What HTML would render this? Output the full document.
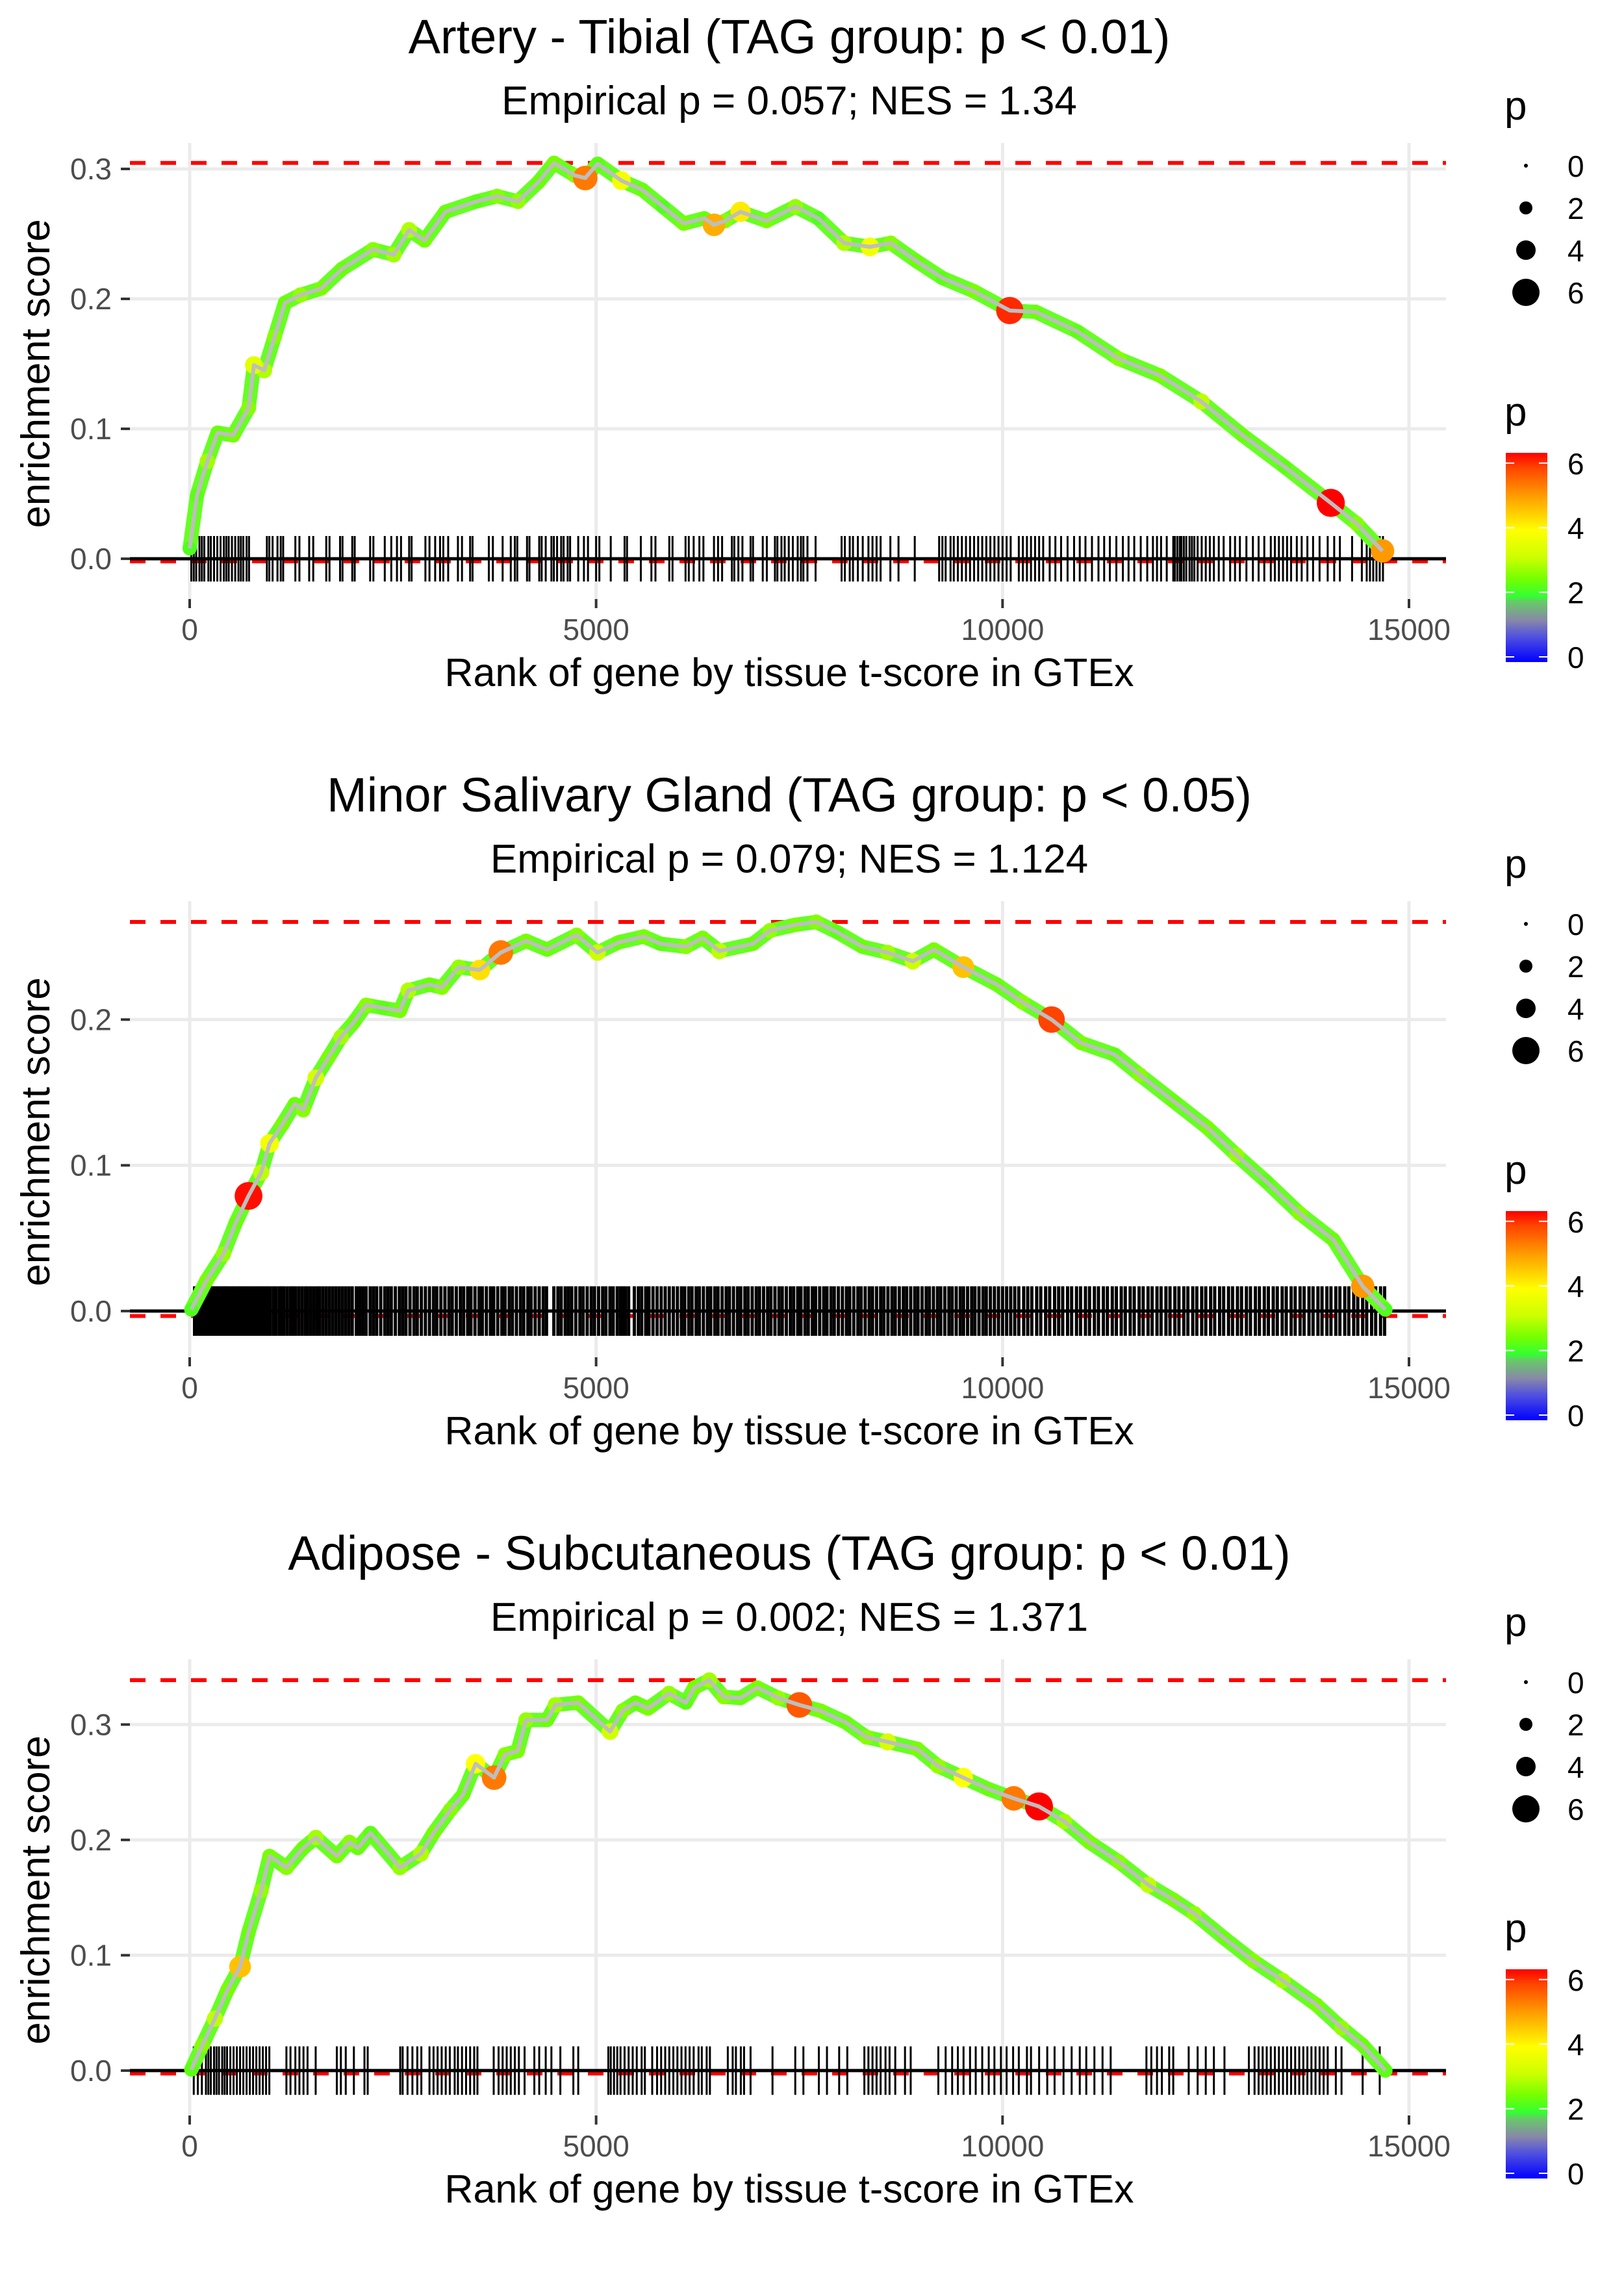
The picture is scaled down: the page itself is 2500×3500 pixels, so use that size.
<!DOCTYPE html>
<html><head><meta charset="utf-8"><style>
html,body{margin:0;padding:0;background:#fff}
svg{display:block;font-family:"Liberation Sans",Arial,sans-serif}
</style></head><body>
<svg id="chart" xmlns="http://www.w3.org/2000/svg" width="2500" height="3500" viewBox="0 0 2500 3500">
<defs>
<linearGradient id="pgrad" x1="0" y1="1" x2="0" y2="0">
<stop offset="0" stop-color="#0000ff"/><stop offset="0.12" stop-color="#5050e0"/><stop offset="0.2" stop-color="#8888a8"/><stop offset="0.29" stop-color="#66cc66"/><stop offset="0.315" stop-color="#33ff33"/><stop offset="0.4" stop-color="#77ff00"/><stop offset="0.5" stop-color="#ccff00"/><stop offset="0.63" stop-color="#ffff00"/><stop offset="0.8" stop-color="#ff9900"/><stop offset="0.93" stop-color="#ff4400"/><stop offset="1" stop-color="#ff0000"/>
</linearGradient>
</defs>
</svg>
<script>
// ---------- data ----------
const titles = ["Artery - Tibial (TAG group: p < 0.01)","Minor Salivary Gland (TAG group: p < 0.05)","Adipose - Subcutaneous (TAG group: p < 0.01)"];
const subtitles = ["Empirical p = 0.057; NES = 1.34","Empirical p = 0.079; NES = 1.124","Empirical p = 0.002; NES = 1.371"];
const xTicks = [0,5000,10000,15000];
const xTickLabels = ["0","5000","10000","15000"];
const yTicks1 = [0,0.1,0.2,0.3];
const yTicks2 = [0,0.1,0.2];
const yTicks3 = [0,0.1,0.2,0.3];
const sizeLegendValues = [0,2,4,6];
const colorLegendValues = [6,4,2,0];

const ranks1 = [0,90,217,344,535,726,790,917,1045,1172,1363,1618,1873,2255,2510,2700,2890,3146,3528,3783,4038,4292,4483,4738,4866,5019,5312,5567,5822,6077,6331,6450,6586,6777,7096,7452,7732,8051,8369,8624,8943,9261,9643,10089,10408,10917,11427,11936,12446,12955,13465,14038,14357,14675];
const es1 = [0.008,0.049,0.075,0.097,0.095,0.116,0.149,0.145,0.171,0.197,0.203,0.208,0.223,0.238,0.234,0.253,0.245,0.267,0.275,0.279,0.275,0.290,0.3046,0.295,0.293,0.304,0.291,0.284,0.271,0.258,0.262,0.257,0.260,0.267,0.260,0.271,0.262,0.243,0.240,0.243,0.229,0.216,0.206,0.191,0.190,0.175,0.154,0.141,0.121,0.095,0.071,0.043,0.027,0.006];
const p1 = [2.2,2.3,2.8,2.4,2.5,2.6,3.5,2.9,2.6,2.4,2.7,2.5,2.4,2.6,2.8,2.9,2.5,2.4,2.3,2.6,2.7,2.4,2.5,2.6,5.3,2.3,3.8,2.4,2.2,2.5,2.4,4.8,2.6,4.2,2.5,2.7,2.2,2.9,3.8,2.6,2.4,2.3,2.5,6.0,2.4,2.3,2.6,2.5,3.0,2.4,2.3,6.3,2.6,5.0];
const hits1 = [20,50,80,120,150,180,230,260,300,340,380,420,450,480,520,560,600,630,660,700,730,950,980,1020,1080,1120,1150,1300,1350,1470,1520,1680,1720,1850,1880,2000,2030,2220,2260,2400,2480,2550,2600,2700,2730,2900,2950,3020,3080,3120,3180,3300,3350,3450,3480,3680,3730,3850,3950,4000,4030,4150,4180,4300,4330,4380,4450,4480,4520,4570,4600,4650,4680,4780,4850,4900,5000,5040,5180,5350,5380,5550,5680,5730,5900,5940,6100,6140,6200,6270,6320,6450,6500,6550,6670,6700,6750,6800,6900,6930,7050,7100,7200,7230,7280,7320,7370,7420,7480,7520,7550,7600,7700,8020,8060,8120,8160,8220,8280,8350,8400,8450,8500,8620,8720,8920,9220,9260,9300,9360,9400,9450,9500,9550,9600,9650,9700,9750,9800,9850,9900,9950,10000,10050,10100,10200,10250,10300,10350,10400,10450,10500,10580,10650,10720,10800,10880,10950,11020,11100,11180,11250,11320,11400,11480,11550,11620,11700,11780,11850,11900,11950,12020,12100,12120,12150,12180,12200,12230,12260,12300,12330,12360,12400,12450,12500,12550,12600,12660,12720,12800,12860,12920,13000,13080,13150,13220,13300,13350,13400,13450,13500,13550,13620,13680,13750,13820,13900,14000,14080,14150,14300,14420,14480,14520,14560,14600,14640,14680];

const ranks2 = [20,207,414,569,724,879,983,1138,1293,1397,1552,1707,1862,2017,2172,2379,2586,2690,2948,3103,3310,3569,3828,4138,4397,4759,5017,5276,5586,5793,6103,6310,6517,6931,7138,7448,7707,7966,8276,8586,8896,9155,9517,9931,10241,10603,10965,11379,11690,12104,12517,12879,13241,13655,14069,14431,14710];
const es2 = [0.001,0.021,0.039,0.061,0.079,0.095,0.115,0.128,0.142,0.138,0.160,0.174,0.188,0.198,0.210,0.208,0.206,0.220,0.224,0.222,0.236,0.234,0.246,0.254,0.248,0.258,0.246,0.253,0.257,0.252,0.250,0.256,0.247,0.252,0.261,0.265,0.267,0.260,0.250,0.246,0.240,0.248,0.236,0.224,0.212,0.200,0.184,0.176,0.162,0.144,0.126,0.107,0.089,0.067,0.049,0.017,0.001];
const p2 = [2.2,2.5,2.7,2.4,6.2,3.0,3.8,2.5,2.4,2.6,3.2,2.5,2.8,2.4,2.6,2.3,2.5,2.9,2.4,2.6,2.7,4.3,5.3,2.5,2.4,2.6,3.1,2.4,2.5,2.3,2.6,2.5,3.0,2.4,2.7,2.5,2.6,2.3,2.4,2.8,3.1,2.5,4.6,2.4,2.6,5.8,2.5,2.3,2.6,2.4,2.5,2.7,2.3,2.6,2.4,5.0,2.2];
const hits2 = [60,90,120,150,175,200,230,260,280,310,340,370,400,430,450,480,510,540,570,600,630,660,690,720,750,780,810,840,870,900,930,960,990,1030,1060,1100,1130,1160,1200,1240,1270,1300,1340,1380,1420,1450,1490,1530,1570,1600,1640,1680,1720,1760,1800,1840,1880,1920,1960,2000,2050,2090,2130,2170,2220,2260,2300,2350,2400,2440,2480,2530,2580,2620,2660,2710,2760,2800,2850,2900,2950,3000,3040,3090,3140,3190,3230,3280,3330,3370,3420,3460,3510,3560,3600,3650,3700,3740,3790,3840,3880,3930,3970,4020,4070,4110,4160,4200,4250,4300,4350,4390,4480,4530,4570,4620,4660,4700,4750,4800,4840,4890,4940,4980,5030,5080,5120,5170,5210,5260,5300,5330,5360,5400,5470,5520,5560,5610,5650,5700,5750,5800,5850,5900,5950,6000,6050,6090,6140,6180,6230,6270,6320,6370,6410,6460,6500,6550,6600,6640,6690,6740,6780,6830,6870,6920,6970,7010,7060,7110,7150,7200,7250,7290,7340,7390,7430,7480,7520,7570,7610,7660,7700,7750,7800,7840,7890,7930,7980,8030,8080,8120,8170,8220,8260,8310,8360,8400,8450,8500,8540,8590,8640,8680,8730,8780,8820,8870,8920,8960,9010,9060,9100,9150,9200,9240,9290,9340,9380,9430,9480,9520,9570,9620,9660,9710,9760,9800,9850,9900,9950,10000,10050,10100,10150,10200,10260,10310,10360,10420,10470,10530,10580,10640,10690,10740,10800,10850,10910,10960,11020,11070,11130,11180,11240,11290,11350,11400,11460,11510,11570,11620,11680,11730,11790,11840,11900,11950,12010,12060,12120,12170,12230,12280,12340,12390,12450,12500,12560,12610,12670,12720,12780,12830,12890,12940,13000,13050,13110,13160,13220,13270,13330,13380,13440,13490,13550,13600,13660,13710,13770,13820,13880,13930,13990,14040,14100,14150,14210,14260,14320,14370,14430,14480,14540,14590,14650,14700];

const ranks3 = [20,155,310,465,620,724,879,983,1190,1397,1552,1810,1966,2069,2224,2586,2845,3000,3207,3362,3517,3745,3879,4034,4138,4397,4500,4779,5172,5328,5483,5638,5897,6103,6207,6393,6569,6776,6983,7241,7500,7759,8069,8328,8586,8948,9207,9517,9828,10138,10448,10759,11069,11431,11793,12104,12362,12724,13086,13448,13862,14172,14431,14710];
const es3 = [0.001,0.022,0.045,0.070,0.090,0.120,0.156,0.186,0.176,0.193,0.202,0.186,0.198,0.193,0.206,0.176,0.188,0.206,0.226,0.239,0.266,0.254,0.274,0.277,0.304,0.304,0.317,0.319,0.294,0.312,0.319,0.314,0.327,0.319,0.332,0.3385,0.324,0.323,0.332,0.323,0.317,0.312,0.302,0.289,0.285,0.279,0.264,0.254,0.244,0.236,0.229,0.216,0.198,0.181,0.161,0.148,0.136,0.115,0.095,0.078,0.057,0.037,0.022,0.0];
const p3 = [2.3,2.6,3.0,2.5,4.6,2.4,2.7,2.5,2.6,2.4,2.8,2.5,2.6,2.4,2.3,2.7,2.9,2.5,2.6,2.4,4.0,5.3,2.6,2.5,2.7,2.4,2.8,2.5,3.2,2.6,2.4,2.5,2.7,2.3,2.5,2.8,2.6,2.4,2.5,2.7,5.6,2.5,2.4,2.6,3.3,2.5,2.7,4.0,2.4,5.3,6.3,2.8,2.5,2.6,3.0,2.5,2.7,2.4,2.6,2.8,2.5,2.7,2.4,2.3];
const hits3 = [50,100,150,200,230,260,300,330,360,400,430,460,500,540,580,620,660,700,740,780,820,860,900,940,980,1190,1240,1300,1350,1400,1450,1550,1810,1860,1920,2020,2150,2190,2590,2620,2680,2740,2800,2850,2950,3000,3050,3100,3150,3200,3260,3300,3350,3400,3450,3500,3540,3740,3800,3850,3900,3950,4000,4050,4120,4240,4300,4380,4450,4560,4720,4780,5150,5180,5220,5260,5300,5350,5400,5450,5500,5560,5600,5690,5750,5800,5850,5900,5950,6000,6050,6100,6150,6200,6260,6300,6360,6400,6620,6680,6720,6780,6820,6900,7170,7450,7550,7740,7840,7990,8090,8300,8350,8400,8450,8500,8560,8610,8680,8800,8870,9210,9300,9380,9450,9520,9600,9670,9750,9830,9900,9980,10050,10130,10200,10300,10350,10450,10550,10640,10750,10850,10950,11030,11130,11230,11330,11770,11830,11900,11960,12050,12100,12290,12400,12500,12600,12730,13030,13100,13150,13200,13250,13300,13350,13400,13450,13500,13550,13600,13650,13700,13750,13800,13850,13900,13950,14000,14100,14170,14430,14640];

const esMin1 = -0.002, esMin2 = -0.0034, esMin3 = -0.0025;
const barHalf1 = 0.0175, barHalf2 = 0.017, barHalf3 = 0.021;

// ---------- layout (not data) ----------
const panels = [
 {dy:0, ranks:ranks1, es:es1, p:p1, hits:hits1, yTicks:yTicks1, esMin:esMin1, bar:barHalf1, yTop:0.32, yBot:-0.031, hitW:3},
 {dy:1167, ranks:ranks2, es:es2, p:p2, hits:hits2, yTicks:yTicks2, esMin:esMin2, bar:barHalf2, yTop:0.28125, yBot:-0.0317, hitW:5},
 {dy:2334, ranks:ranks3, es:es3, p:p3, hits:hits3, yTicks:yTicks3, esMin:esMin3, bar:barHalf3, yTop:0.3565, yBot:-0.0389, hitW:3}
];
const PL=200, PR=2226, PTOP=220, PH=702, CX=1215;
const X0=292, XPX=(2169-292)/15000;
const svg=document.getElementById('chart');
const NS='http://www.w3.org/2000/svg';
function mk(tag, attrs, parent){const e=document.createElementNS(NS,tag);for(const k in attrs)e.setAttribute(k,attrs[k]);(parent||svg).appendChild(e);return e;}
function xS(r){return X0+r*XPX;}
const cStops=[[0,[0,0,255]],[0.7,[80,80,224]],[1.2,[136,136,168]],[1.8,[102,204,102]],[2.0,[51,255,51]],[2.5,[119,255,0]],[3.1,[204,255,0]],[4,[255,255,0]],[5,[255,153,0]],[5.8,[255,68,0]],[6.3,[255,0,0]]];
function pColor(p){for(let i=1;i<cStops.length;i++){if(p<=cStops[i][0]){const a=cStops[i-1],b=cStops[i];const t=(p-a[0])/(b[0]-a[0]);const c=a[1].map((v,j)=>Math.round(v+(b[1][j]-v)*t));return 'rgb('+c.join(',')+')';}}return 'rgb(255,0,0)';}
const sStops=[[0,3],[2,10],[4,15],[6,21],[6.5,22]];
function pSize(p){for(let i=1;i<sStops.length;i++){if(p<=sStops[i][0]){const a=sStops[i-1],b=sStops[i];return a[1]+(b[1]-a[1])*(p-a[0])/(b[0]-a[0]);}}return 22;}

panels.forEach((P,k)=>{
  const dy=P.dy;
  const top=PTOP+dy, bot=top+PH;
  const ys=v=>top+(P.yTop-v)/(P.yTop-P.yBot)*PH;
  const g=mk('g',{});
  
  
  let t=mk('text',{x:CX,y:82+dy,'text-anchor':'middle','font-size':74,fill:'#000'},g);t.textContent=titles[k];
  
  
  t=mk('text',{x:CX,y:176+dy,'text-anchor':'middle','font-size':62,fill:'#000'},g);t.textContent=subtitles[k];
  
  
  const grid=mk('g',{stroke:'#ebebeb','stroke-width':5},g);
  
  
  P.yTicks.forEach(v=>{mk('line',{x1:PL,x2:PR,y1:ys(v),y2:ys(v)},grid);});
  xTicks.forEach(v=>{mk('line',{x1:xS(v),x2:xS(v),y1:top,y2:bot},grid);});
  P.yTicks.forEach(v=>{
    mk('line',{x1:186,x2:200,y1:ys(v),y2:ys(v),stroke:'#333','stroke-width':4},g);
    const l=mk('text',{x:172,y:ys(v)+16,'text-anchor':'end','font-size':46,fill:'#4d4d4d'},g);
    l.textContent=v.toFixed(1);
    
    
  });
  xTicks.forEach((v,i)=>{
    mk('line',{x1:xS(v),x2:xS(v),y1:bot,y2:bot+14,stroke:'#333','stroke-width':4},g);
    const l=mk('text',{x:xS(v),y:985+dy,'text-anchor':'middle','font-size':46,fill:'#4d4d4d'},g);
    l.textContent=xTickLabels[i];
    
    
  });
  t=mk('text',{x:CX,y:1056+dy,'text-anchor':'middle','font-size':61,fill:'#000'},g);t.textContent='Rank of gene by tissue t-score in GTEx';
  
  
  t=mk('text',{x:0,y:0,'text-anchor':'middle','font-size':62,fill:'#000',transform:'translate(76,'+(575+dy)+') rotate(-90)'},g);t.textContent='enrichment score';
  
  
  const esMax=Math.max(...P.es);
  [esMax,P.esMin].forEach(v=>{
    const l=mk('line',{x1:PL,x2:PR,y1:ys(v),y2:ys(v),stroke:'#ff0000','stroke-width':6,'stroke-dasharray':'24 23'},g);
    
    
  });
  const bc=mk('g',{stroke:'#000','stroke-width':P.hitW},g);
  
  
  P.hits.forEach(r=>{
    const l=mk('line',{x1:xS(r),x2:xS(r),y1:ys(P.bar),y2:ys(-P.bar)},bc);
    
    
  });
  const z=mk('line',{x1:PL,x2:PR,y1:ys(0),y2:ys(0),stroke:'#000','stroke-width':5},g);
  
  
  const pts=P.ranks.map((r,i)=>xS(r).toFixed(1)+','+ys(P.es[i]).toFixed(1)).join(' ');
  const band=mk('polyline',{points:pts,fill:'none',stroke:'#66ff22','stroke-width':22,'stroke-linejoin':'round','stroke-linecap':'round'},g);
  
  
  const order=P.p.map((v,i)=>i).sort((a,b)=>P.p[a]-P.p[b]);
  order.forEach(i=>{
    const r=pSize(P.p[i]);
    const c=mk('circle',{cx:xS(P.ranks[i]),cy:ys(P.es[i]),r:r,fill:pColor(P.p[i])},g);
    
    
  });
  const line=mk('polyline',{points:pts,fill:'none',stroke:'#bebebe','stroke-width':6,'stroke-linejoin':'round'},g);
  
  
  const lg=mk('g',{},g);
  
  
  t=mk('text',{x:2316,y:184+dy,'font-size':62,fill:'#000'},lg);t.textContent='p';
  sizeLegendValues.forEach((v,i)=>{
    const cy=255+i*65+dy;
    mk('circle',{cx:2349,cy:cy,r:pSize(v),fill:'#000'},lg);
    const l=mk('text',{x:2413,y:cy+17,'font-size':46,fill:'#000'},lg);l.textContent=String(v);
  });
  const cg=mk('g',{},g);
  
  
  t=mk('text',{x:2316,y:655+dy,'font-size':62,fill:'#000'},cg);t.textContent='p';
  mk('rect',{x:2318,y:697+dy,width:64,height:322,fill:'url(#pgrad)'},cg);
  colorLegendValues.forEach(v=>{
    const cy=1011+dy-v*49.7;
    mk('line',{x1:2318,x2:2331,y1:cy,y2:cy,stroke:'#fff','stroke-width':2},cg);
    mk('line',{x1:2369,x2:2382,y1:cy,y2:cy,stroke:'#fff','stroke-width':2},cg);
    const l=mk('text',{x:2413,y:cy+17,'font-size':46,fill:'#000'},cg);l.textContent=String(v);
  });
});
</script>
</body></html>
